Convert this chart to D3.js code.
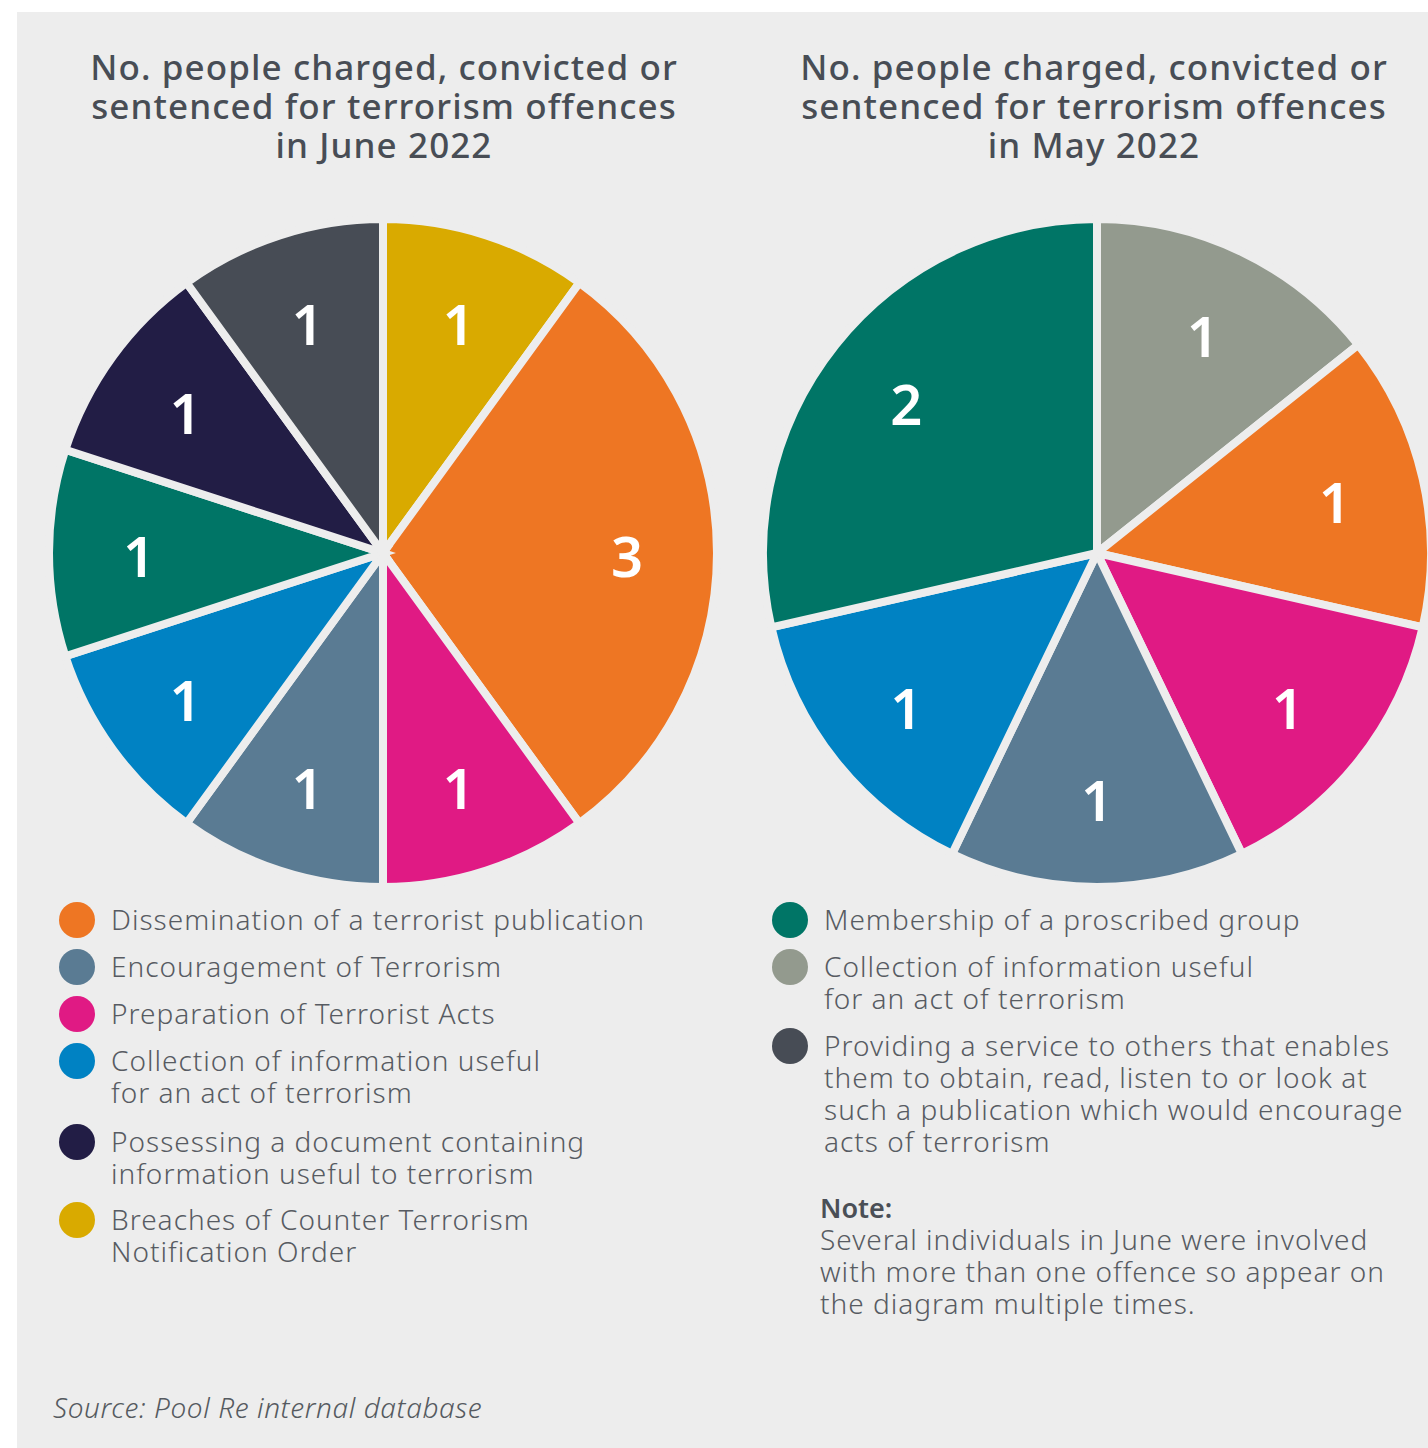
<!DOCTYPE html>
<html>
<head>
    <title>Terrorism offences June / May 2022</title>
    <script src="https://cdnjs.cloudflare.com/ajax/libs/d3/7.8.5/d3.min.js"></script>
    <style>
        body {
            margin: 0;
            background: #ffffff;
        }
        .title {
            font-family: "Noto Sans", sans-serif;
            font-weight: 500;
            font-size: 35px;
            letter-spacing: 1.1px;
            fill: #484d55;
        }
        .legend-text {
            font-family: "Noto Sans", sans-serif;
            font-weight: 300;
            font-size: 28px;
            letter-spacing: 1px;
            fill: #575b62;
        }
        .slice-label {
            font-family: "Noto Sans", sans-serif;
            font-weight: 600;
            font-size: 56px;
            fill: #ffffff;
        }
        .note-head {
            font-family: "Noto Sans", sans-serif;
            font-weight: 600;
            font-size: 27px;
            fill: #4a4f56;
        }
        .source {
            font-family: "Noto Sans", sans-serif;
            font-style: italic;
            font-weight: 300;
            font-size: 28px;
            letter-spacing: 0.6px;
            fill: #555a60;
        }
    </style>
</head>
<body>
    <div id="chart"></div>

    <script>
        // Category colours (shared between both pies)
        const categoryColors = {
            breaches: "#d9aa00",
            dissemination: "#ee7623",
            preparation: "#e01a84",
            encouragement: "#5a7b93",
            collectionBlue: "#0082c3",
            membership: "#007566",
            possessing: "#221d45",
            providing: "#474c55",
            collectionGrey: "#939a8e"
        };

        // June 2022 pie, clockwise from 12 o'clock
        const juneKeys = ["breaches", "dissemination", "preparation", "encouragement",
                          "collectionBlue", "membership", "possessing", "providing"];
        const juneValues = [1, 3, 1, 1, 1, 1, 1, 1];

        // May 2022 pie, clockwise from 12 o'clock
        const mayKeys = ["collectionGrey", "dissemination", "preparation", "encouragement",
                         "collectionBlue", "membership"];
        const mayValues = [1, 1, 1, 1, 1, 2];

        const juneTitle = ["No. people charged, convicted or", "sentenced for terrorism offences", "in June 2022"];
        const mayTitle = ["No. people charged, convicted or", "sentenced for terrorism offences", "in May 2022"];

        // Legends
        const leftLegendKeys = ["dissemination", "encouragement", "preparation", "collectionBlue", "possessing", "breaches"];
        const leftLegendText = [
            ["Dissemination of a terrorist publication"],
            ["Encouragement of Terrorism"],
            ["Preparation of Terrorist Acts"],
            ["Collection of information useful", "for an act of terrorism"],
            ["Possessing a document containing", "information useful to terrorism"],
            ["Breaches of Counter Terrorism", "Notification Order"]
        ];
        const rightLegendKeys = ["membership", "collectionGrey", "providing"];
        const rightLegendText = [
            ["Membership of a proscribed group"],
            ["Collection of information useful", "for an act of terrorism"],
            ["Providing a service to others that enables", "them to obtain, read, listen to or look at",
             "such a publication which would encourage", "acts of terrorism"]
        ];

        const noteTitle = "Note:";
        const noteLines = ["Several individuals in June were involved",
                           "with more than one offence so appear on",
                           "the diagram multiple times."];
        const sourceText = "Source: Pool Re internal database";

        const W = 1428, H = 1448;
        const bg = "#ededed";

        const svg = d3.select("#chart")
            .append("svg")
            .attr("width", W)
            .attr("height", H);

        svg.append("rect")
            .attr("x", 17).attr("y", 12)
            .attr("width", W - 17).attr("height", H - 12)
            .attr("fill", bg);

        function drawTitle(lines, cx) {
            svg.append("text")
                .attr("class", "title")
                .attr("text-anchor", "middle")
                .selectAll("tspan")
                .data(lines)
                .join("tspan")
                .attr("x", cx)
                .attr("y", (d, i) => 80 + i * 39)
                .text(d => d);
        }

        function drawPie(keys, values, cx, cy) {
            const data = keys.map((k, i) => ({ key: k, value: values[i] }));
            const pie = d3.pie().sort(null).value(d => d.value);
            const arc = d3.arc().innerRadius(0).outerRadius(334);
            const labelArc = d3.arc().innerRadius(244).outerRadius(244);

            const g = svg.append("g").attr("transform", `translate(${cx},${cy})`);
            const arcs = pie(data);

            g.selectAll("path")
                .data(arcs)
                .join("path")
                .attr("d", arc)
                .attr("fill", d => categoryColors[d.data.key])
                .attr("stroke", bg)
                .attr("stroke-width", 8)
                .attr("stroke-linejoin", "miter");

            g.selectAll("text")
                .data(arcs)
                .join("text")
                .attr("class", "slice-label")
                .attr("transform", d => `translate(${labelArc.centroid(d)})`)
                .attr("text-anchor", "middle")
                .attr("dy", "0.43em")
                .text(d => d.data.value);
        }

        function drawLegend(keys, texts, x, yStarts) {
            keys.forEach((k, i) => {
                const y0 = yStarts[i];
                svg.append("circle")
                    .attr("cx", x)
                    .attr("cy", y0)
                    .attr("r", 18)
                    .attr("fill", categoryColors[k]);
                svg.append("text")
                    .attr("class", "legend-text")
                    .selectAll("tspan")
                    .data(texts[i])
                    .join("tspan")
                    .attr("x", x + 34)
                    .attr("y", (d, j) => y0 + 10 + j * 32)
                    .text(d => d);
            });
        }

        drawTitle(juneTitle, 384);
        drawTitle(mayTitle, 1094);

        drawPie(juneKeys, juneValues, 383, 553);
        drawPie(mayKeys, mayValues, 1097, 553);

        drawLegend(leftLegendKeys, leftLegendText, 77, [920, 967, 1014, 1061, 1142, 1220]);
        drawLegend(rightLegendKeys, rightLegendText, 790, [920, 967, 1046]);

        svg.append("text")
            .attr("class", "note-head")
            .attr("x", 820)
            .attr("y", 1218)
            .text(noteTitle);

        svg.append("text")
            .attr("class", "legend-text")
            .selectAll("tspan")
            .data(noteLines)
            .join("tspan")
            .attr("x", 820)
            .attr("y", (d, i) => 1250 + i * 32)
            .text(d => d);

        svg.append("text")
            .attr("class", "source")
            .attr("x", 53)
            .attr("y", 1418)
            .text(sourceText);
    </script>
</body>
</html>
